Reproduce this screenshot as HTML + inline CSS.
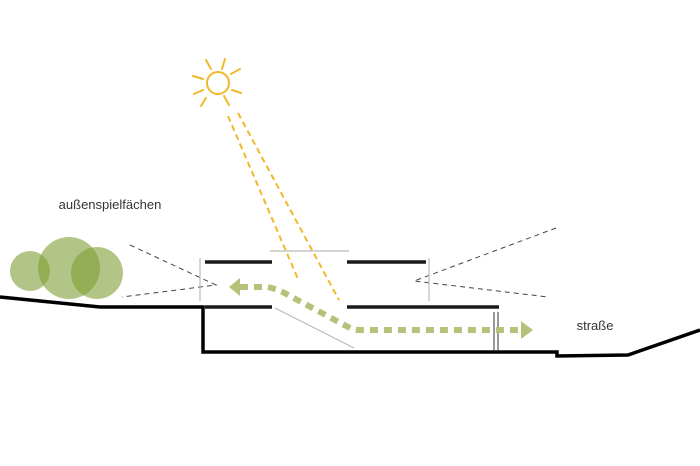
<!DOCTYPE html>
<html><head><meta charset="utf-8"><style>html,body{margin:0;padding:0;background:#fff}svg{display:block}</style></head><body>
<svg width="700" height="466" viewBox="0 0 700 466" xmlns="http://www.w3.org/2000/svg">
<g fill="#7e9e35" fill-opacity="0.6">
<circle cx="30" cy="271" r="20"/>
<circle cx="69" cy="268" r="31"/>
<circle cx="97" cy="273" r="26"/>
</g>
<text x="110" y="209" font-family="Liberation Sans, sans-serif" font-size="13" fill="#333" text-anchor="middle">außenspielfächen</text>
<text x="595" y="330" font-family="Liberation Sans, sans-serif" font-size="13" fill="#333" text-anchor="middle">straße</text>
<g stroke="#f0b92a" stroke-width="2" fill="none" stroke-linecap="round">
<circle cx="218" cy="83" r="11"/>
<line x1="206" y1="60" x2="211" y2="69"/>
<line x1="225" y1="59" x2="222" y2="69"/>
<line x1="193" y1="76" x2="203" y2="79"/>
<line x1="240" y1="69" x2="231" y2="74"/>
<line x1="194" y1="94" x2="203" y2="90"/>
<line x1="232" y1="90" x2="241" y2="93"/>
<line x1="206" y1="98" x2="201" y2="106"/>
<line x1="224" y1="96" x2="229" y2="105"/>
</g>
<g stroke="#f0b92a" stroke-width="2" stroke-dasharray="6,4">
<line x1="228" y1="116" x2="298" y2="279"/>
<line x1="238" y1="113" x2="339" y2="300"/>
</g>
<g stroke="#444" stroke-width="1" stroke-dasharray="5,4" fill="none">
<polyline points="130,245 216,285 122,297"/>
<polyline points="556,228 414,281 548,297"/>
</g>
<g stroke="#bbb" stroke-width="1.2">
<line x1="270" y1="251" x2="349" y2="251"/>
<line x1="200" y1="258" x2="200" y2="301"/>
<line x1="429" y1="258" x2="429" y2="301"/>
<line x1="275" y1="308" x2="354" y2="348"/>
</g>
<g stroke="#1a1a1a" stroke-width="3.5">
<line x1="205" y1="262" x2="272" y2="262"/>
<line x1="347" y1="262" x2="426" y2="262"/>
<line x1="205" y1="307" x2="272" y2="307"/>
<line x1="347" y1="307" x2="499" y2="307"/>
</g>
<g stroke="#555" stroke-width="1.2">
<line x1="494" y1="312" x2="494" y2="350"/>
<line x1="498" y1="312" x2="498" y2="350"/>
</g>
<polyline points="0,297 100,307 203,307 203,352 557,352 557,356 628,355 700,330" fill="none" stroke="#000" stroke-width="3.5"/>
<path d="M240,287 L268,287 Q280,290 290,296 L350,328 Q354,330 360,330 L518,330" fill="none" stroke="#b5c27a" stroke-width="6" stroke-dasharray="8,6"/>
<polygon points="229,287 240,278 240,296" fill="#b5c27a"/>
<polygon points="533,330 521,321 521,339" fill="#b5c27a"/>
</svg>
</body></html>
